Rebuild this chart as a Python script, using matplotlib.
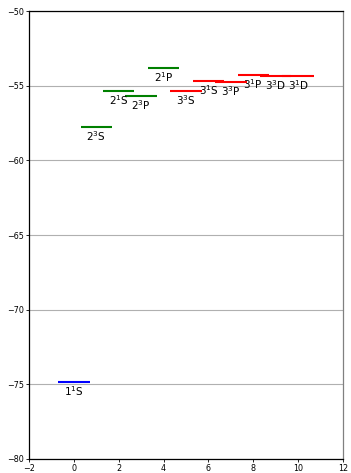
import numpy as np
from matplotlib import pyplot as plt

# helium-like levels, energies
states = ["1$^1$S", "2$^3$S", "2$^1$S", "2$^3$P", "2$^1$P",
          "3$^3$S", "3$^1$S", "3$^3$P", "3$^1$P", "3$^3$D", "3$^1$D"]
shell = [1, 2, 2, 2, 2, 3, 3, 3, 3, 3, 3]
energy = [-74.85, -57.77, -55.36, -55.69, -53.82,
          -55.35, -54.69, -54.75, -54.26, -54.33, -54.33]
colors = {1: "b", 2: "g", 3: "r"}

fig = plt.figure(figsize=(3.51, 4.73), dpi=100)
ax = fig.add_axes([0.0826, 0.0296, 0.8944, 0.9471])

for i in range(len(states)):
    ax.hlines(energy[i], i - 0.7, i + 0.7, color=colors[shell[i]], linewidth=1.5)
    ax.text(i, energy[i] - 0.15, states[i], ha="center", va="top", fontsize=7.5)

ax.set_xlim(-2, 12)
ax.set_ylim(-80, -50)
ax.yaxis.grid(True, color="#b0b0b0", linewidth=0.8)
ax.spines["right"].set_color("grey")
ax.tick_params(labelsize=5.8, length=2, width=0.6, pad=1.5)
for s in ax.spines.values():
    s.set_linewidth(0.9)

plt.savefig("out.png")
